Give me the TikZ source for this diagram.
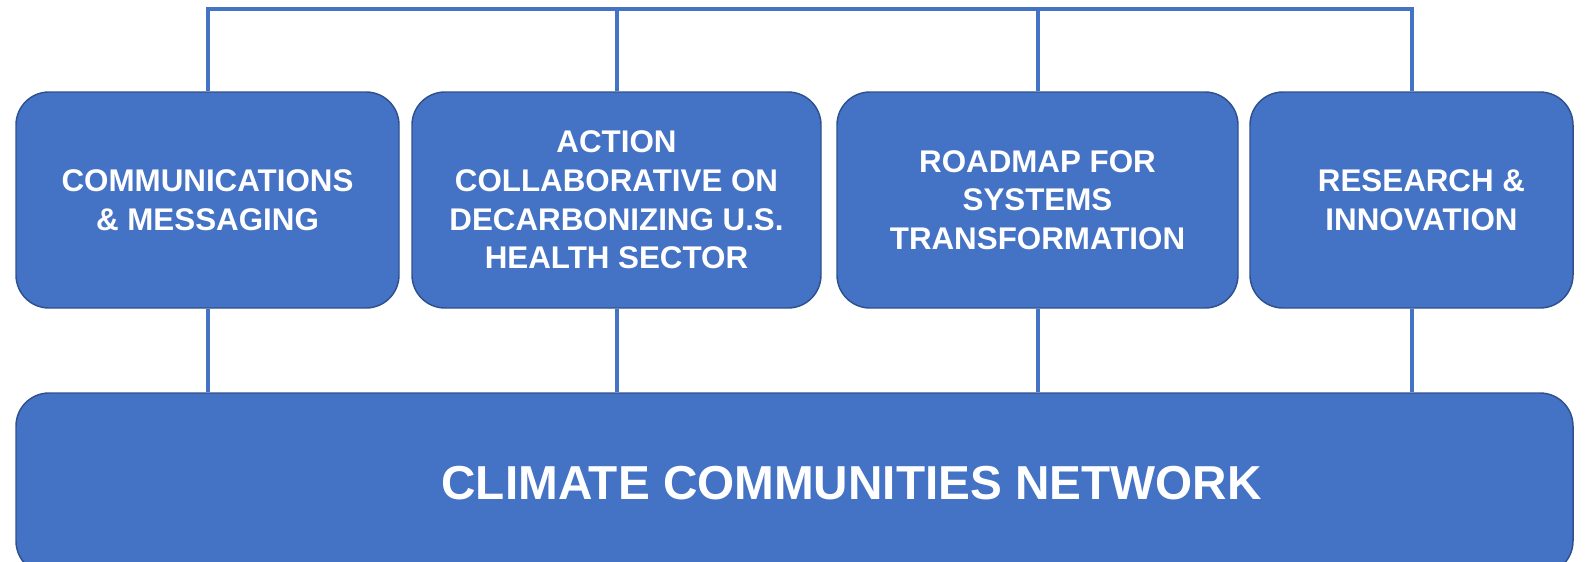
\documentclass[tikz,border=0pt]{standalone}
\usepackage{fontspec}
\setmainfont{Liberation Sans}
\usetikzlibrary{backgrounds}
\definecolor{boxfill}{HTML}{4472C4}
\definecolor{boxedge}{HTML}{2F528F}
\definecolor{linecol}{HTML}{4472C4}
\tikzset{
  topbox/.style={draw=boxedge, line width=1.1pt, fill=boxfill, rounded corners=24.75pt,
    minimum height=162pt, text=white, align=center, inner sep=0pt,
    font=\fontsize{23.5}{29}\selectfont\bfseries},
  netbox/.style={draw=boxedge, line width=1.1pt, fill=boxfill, rounded corners=24.75pt,
    minimum width=1167.75pt, minimum height=135.75pt, text=white, align=center, inner sep=0pt,
    font=\fontsize{35.75}{42}\selectfont\bfseries},
  conn/.style={draw=linecol, line width=3pt, line join=miter}
}
\begin{document}
\begin{tikzpicture}[x=0.75pt, y=-0.75pt]
\useasboundingbox (0,0) rectangle (1585,561);
\node[topbox, minimum width=287.25pt] (b1) at (207.5,200) {COMMUNICATIONS\\\& MESSAGING};
\node[topbox, minimum width=306.75pt] (b2) at (616.5,200) {ACTION\\COLLABORATIVE ON\\DECARBONIZING U.S.\\HEALTH SECTOR};
\node[topbox, minimum width=300.75pt] (b3) at (1037.5,200) {ROADMAP FOR\\SYSTEMS\\TRANSFORMATION};
\node[topbox, minimum width=242.25pt] (b4) at (1411.5,200) {\hspace*{15pt}RESEARCH \&\\\hspace*{15pt}INNOVATION};
\node[netbox] (net) at (794.5,483.5) {\hspace*{85.5pt}CLIMATE COMMUNITIES NETWORK};
\coordinate (top) at (0,8.5);
\begin{scope}[on background layer]
\draw[conn] (b1.north) -- (b1.north |- top) -- (b4.north |- top) -- (b4.north);
\draw[conn] (b2.north) -- (b2.north |- top);
\draw[conn] (b3.north) -- (b3.north |- top);
\draw[conn] (b1.south) -- (b1.south |- net.north);
\draw[conn] (b2.south) -- (b2.south |- net.north);
\draw[conn] (b3.south) -- (b3.south |- net.north);
\draw[conn] (b4.south) -- (b4.south |- net.north);
\end{scope}
\end{tikzpicture}
\end{document}
